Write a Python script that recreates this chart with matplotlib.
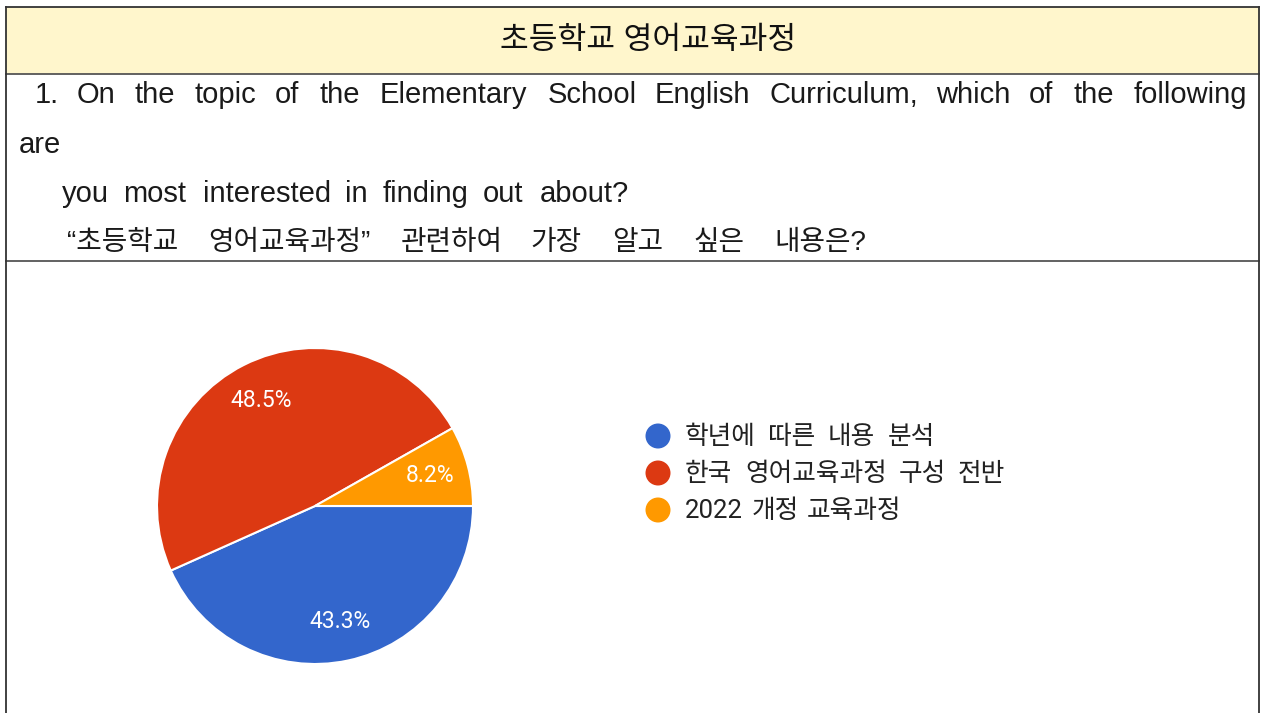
import matplotlib.pyplot as plt
from matplotlib.patches import Rectangle, Circle
from matplotlib.textpath import TextPath
from matplotlib.font_manager import FontProperties

# 데이터
labels = ['학년에 따른 내용 분석', '한국 영어교육과정 구성 전반', '2022 개정 교육과정']
values = [43.3, 48.5, 8.2]
colors = ['#3366CC', '#DC3912', '#FF9900']

header = '초등학교 영어교육과정'
question_lines = [
    '1. On the topic of the Elementary School English Curriculum, which of the following',
    'are',
    'you most interested in finding out about?',
    '“초등학교 영어교육과정” 관련하여 가장 알고 싶은 내용은?',
]

W, H = 1261, 713
DPI = 100
fig = plt.figure(figsize=(W / DPI, H / DPI), dpi=DPI)
ax = fig.add_axes([0, 0, 1, 1])

def Y(y):
    # 이미지 좌표(위에서 아래로)를 축 좌표로
    return H - y

tfont = ['Liberation Sans', 'Noto Sans CJK KR', 'DejaVu Sans']
lfont = ['Roboto', 'Noto Sans CJK KR', 'DejaVu Sans']
txtcol = '#1a1a1a'

# 표 테두리와 머리줄
ax.add_patch(Rectangle((6, Y(74)), 1253, 67, facecolor='#FFF6CC', edgecolor='none'))
lw = 1.3
ax.plot([6, 1259], [Y(7), Y(7)], color='#333333', lw=lw)
ax.plot([6, 1259], [Y(74), Y(74)], color='#555555', lw=lw)
ax.plot([6, 1259], [Y(261), Y(261)], color='#555555', lw=lw)
ax.plot([6, 6], [Y(7), Y(713)], color='#333333', lw=lw)
ax.plot([1259, 1259], [Y(7), Y(713)], color='#333333', lw=lw)

ax.text(648, Y(41), header, ha='center', va='center', fontsize=22.5,
        family=tfont, color='#111111')

def ink_extent(word, size, fam):
    # 글자 모양 기준의 가로 범위 (픽셀)
    tp = TextPath((0, 0), word, size=size, prop=FontProperties(family=fam))
    v = tp.vertices
    k = DPI / 72.0
    return v[:, 0].min() * k, v[:, 0].max() * k

# 양쪽 정렬로 단어 배치
def place_words(line, x0, x1, y, size, fam=tfont, col=txtcol):
    words = line.split(' ')
    ext = [ink_extent(w, size, fam) for w in words]
    widths = [b - a for a, b in ext]
    gap = (x1 - x0 - sum(widths)) / max(len(words) - 1, 1)
    x = x0
    for w, (a, b) in zip(words, ext):
        ax.text(x - a, Y(y), w, ha='left', va='center', fontsize=size,
                family=fam, color=col)
        x += (b - a) + gap

place_words(question_lines[0], 35, 1245, 95, 21)
ax.text(19, Y(145), question_lines[1], ha='left', va='center', fontsize=21,
        family=tfont, color=txtcol)
place_words(question_lines[2], 62, 628, 194, 21)
place_words(question_lines[3], 67, 865, 243, 20)

# 원그래프
wedges, texts, autotexts = ax.pie(
    values, colors=colors, startangle=0, counterclock=False,
    center=(315, Y(506)), radius=158, frame=True,
    autopct='%1.1f%%', pctdistance=0.75,
    wedgeprops=dict(edgecolor='white', linewidth=1.5),
    textprops=dict(color='white', fontsize=16.5, family=lfont))

# 범례
leg_ends = [932, 1004, 898]
for i, (lab, c) in enumerate(zip(labels, colors)):
    yy = 437 + i * 37
    ax.add_patch(Circle((658, Y(yy - 1)), 12.5, facecolor=c, edgecolor='none'))
    place_words(lab, 685, leg_ends[i], yy, 18.5, fam=lfont, col='#222222')

ax.set_xlim(0, W)
ax.set_ylim(0, H)
ax.set_aspect('auto')
ax.axis('off')

fig.savefig('out.png', dpi=DPI)
